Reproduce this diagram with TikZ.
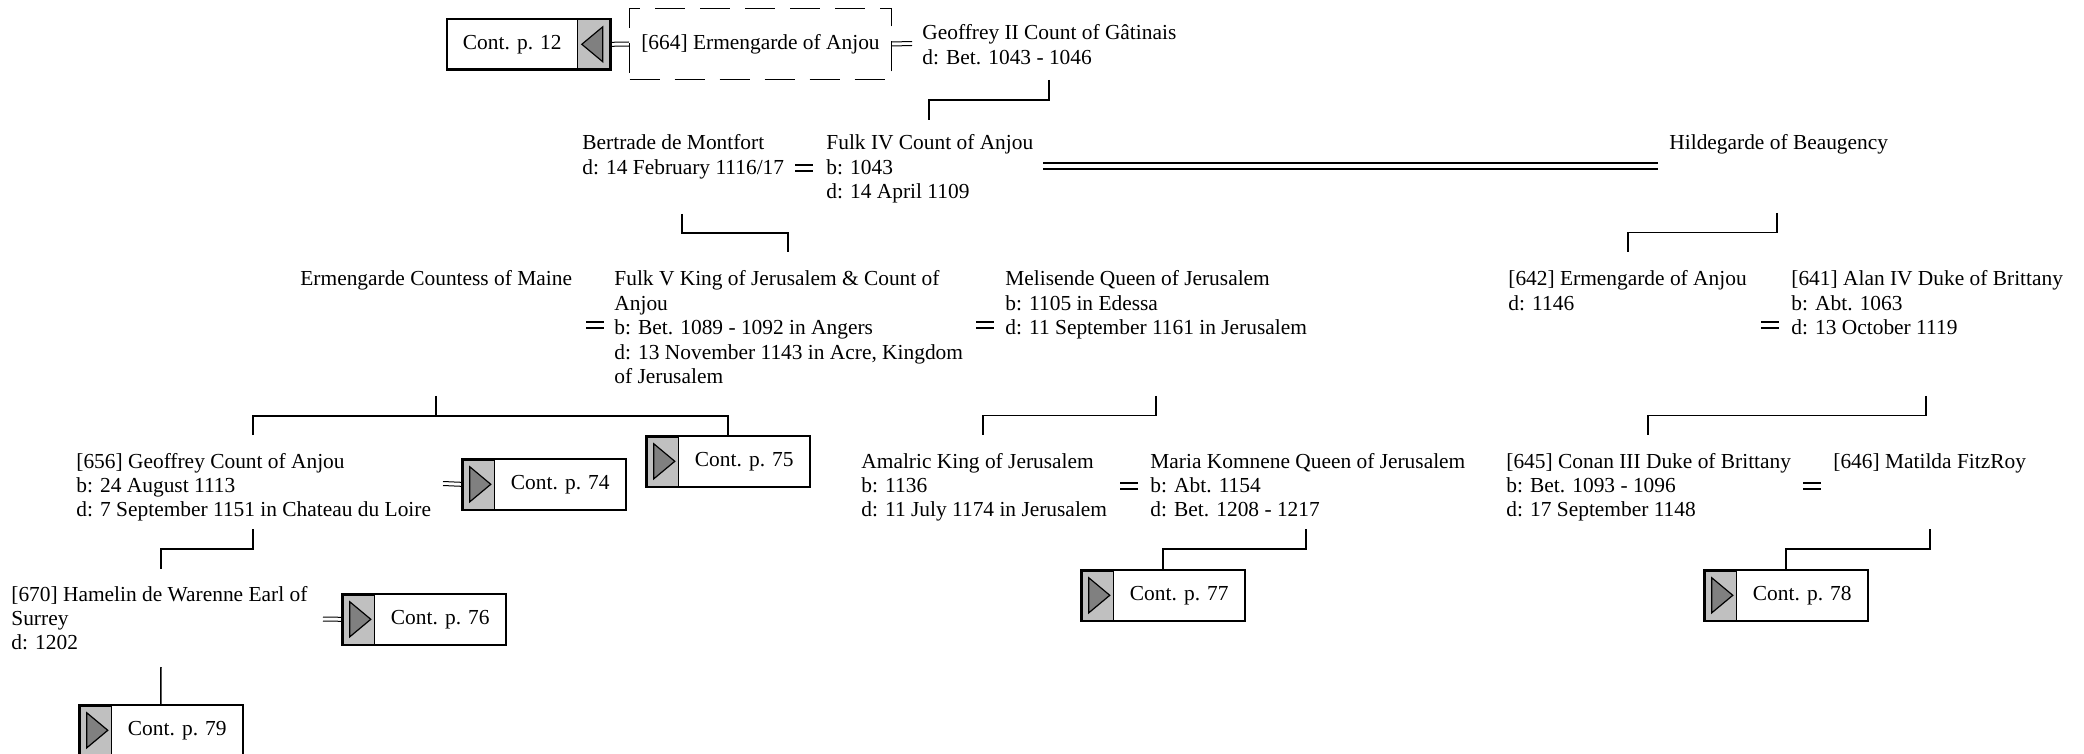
\documentclass[tikz,border=0pt]{standalone}
\usepackage{fontspec}
\setmainfont{Liberation Serif}
\usetikzlibrary{calc}
\definecolor{gA}{HTML}{C0C0C0}
\definecolor{gB}{HTML}{808080}
\newcommand\plines[1]{\begin{tabular}[t]{@{}l@{}}#1\end{tabular}}
\begin{document}
\begin{tikzpicture}[x=0.5pt,y=-0.5pt,
  every node/.style={font=\fontsize{10.7}{12.2}\selectfont},
  person/.style={anchor=base west, inner sep=0pt},
  conn/.style={line width=0.75pt},
  marr/.style={inner sep=0pt, minimum width=8.5pt, minimum height=3pt},
  mline/.style={line width=0.8pt},
  thinl/.style={line width=0.5pt},
  bigdbl/.style={double, double distance=2.1pt, line width=0.9pt},
  contbox/.style={draw, line width=0.8pt, minimum width=82pt, minimum height=25.5pt, inner sep=0pt, anchor=north west},
  contR/.style={contbox, path picture={
    \fill[gA] (path picture bounding box.north west) rectangle ([xshift=16.5pt]path picture bounding box.south west);
    \draw[line width=0.5pt] ([xshift=16.5pt]path picture bounding box.north west) -- ([xshift=16.5pt]path picture bounding box.south west);
    \draw[line width=2pt] ([xshift=16.5pt]path picture bounding box.north west) -- (path picture bounding box.north west) -- (path picture bounding box.south west);
    \draw[fill=gB, line width=0.6pt] ([xshift=4pt,yshift=-4pt]path picture bounding box.north west) -- ([xshift=14.5pt]path picture bounding box.west) -- ([xshift=4pt,yshift=4pt]path picture bounding box.south west) -- cycle;
  }},
  contL/.style={contbox, path picture={
    \fill[gA] (path picture bounding box.north east) rectangle ([xshift=-16.5pt]path picture bounding box.south east);
    \draw[line width=0.5pt] ([xshift=-16.5pt]path picture bounding box.north east) -- ([xshift=-16.5pt]path picture bounding box.south east);
    \draw[line width=2pt] (path picture bounding box.north east) -- (path picture bounding box.south east) -- (path picture bounding box.south west);
    \draw[fill=gB, line width=0.6pt] ([xshift=-4pt,yshift=-4pt]path picture bounding box.north east) -- ([xshift=-14.5pt]path picture bounding box.east) -- ([xshift=-4pt,yshift=4pt]path picture bounding box.south east) -- cycle;
  }},
  dashbox/.style={draw, line width=0.5pt, dash pattern=on 15pt off 7.5pt, minimum width=131pt, minimum height=35.5pt, inner sep=0pt, anchor=north west}
]
\clip (0,0) rectangle (2084,754);
\fill[white] (0,0) rectangle (2084,754);

% ---- row 1
\node[contL] (c12) at (446,18) {Cont. p. 12\hspace*{16.5pt}};
\node[dashbox] (e664) at (629,8) {[664] Ermengarde of Anjou};
\node[person] (g2) at (922,40) {\plines{Geoffrey II Count of Gâtinais\\d: Bet. 1043 - 1046}};
\coordinate (g2r) at (912,43.5);
\draw[thinl] ([yshift=1pt]c12.east) -- ([yshift=1pt]e664.west);
\draw[thinl] ([yshift=-1pt]c12.east) -- ([yshift=-1pt]e664.west);
\draw[thinl] ([yshift=1pt]e664.east) -- ([yshift=1pt]g2r);
\draw[thinl] ([yshift=-1pt]e664.east) -- ([yshift=-1pt]g2r);

% ---- row 2
\node[person] (bert) at (582,150) {\plines{Bertrade de Montfort\\d: 14 February 1116/17}};
\node[person] (f4) at (826,150) {\plines{Fulk IV Count of Anjou\\b: 1043\\d: 14 April 1109}};
\node[person] (hild) at (1669,150) {Hildegarde of Beaugency};
\node[marr] (m1) at (804,168) {};
\coordinate (f4r) at (1043,166);
\coordinate (hildl) at (1658,166);
\draw[bigdbl] (f4r) -- (hildl);

% ---- row 3
\node[person] (ecm) at (300,286) {Ermengarde Countess of Maine};
\node[person] (f5) at (614,286) {\plines{Fulk V King of Jerusalem \& Count of\\Anjou\\b: Bet. 1089 - 1092 in Angers\\d: 13 November 1143 in Acre, Kingdom\\of Jerusalem}};
\node[person] (mel) at (1005,286) {\plines{Melisende Queen of Jerusalem\\b: 1105 in Edessa\\d: 11 September 1161 in Jerusalem}};
\node[person] (e642) at (1508,286) {\plines{[642] Ermengarde of Anjou\\d: 1146}};
\node[person] (a641) at (1791,286) {\plines{[641] Alan IV Duke of Brittany\\b: Abt. 1063\\d: 13 October 1119}};
\node[marr] (m2) at (595,325) {};
\node[marr] (m3) at (985,325) {};
\node[marr] (m4) at (1770,325) {};

% ---- row 4
\node[person] (g656) at (76,468) {\plines{[656] Geoffrey Count of Anjou\\b: 24 August 1113\\d: 7 September 1151 in Chateau du Loire}};
\node[contR] (c74) at (461,458) {\hspace*{16.5pt}Cont. p. 74};
\node[contR] (c75) at (645,435) {\hspace*{16.5pt}Cont. p. 75};
\node[person] (ama) at (861,468) {\plines{Amalric King of Jerusalem\\b: 1136\\d: 11 July 1174 in Jerusalem}};
\node[person] (mar) at (1150,468) {\plines{Maria Komnene Queen of Jerusalem\\b: Abt. 1154\\d: Bet. 1208 - 1217}};
\node[person] (c645) at (1506,468) {\plines{[645] Conan III Duke of Brittany\\b: Bet. 1093 - 1096\\d: 17 September 1148}};
\node[person] (m646) at (1833,468) {[646] Matilda FitzRoy};
\node[marr] (m5) at (1129,486) {};
\node[marr] (m6) at (1812,486) {};
\coordinate (g656r) at (443,483.5);
\draw[thinl] ([yshift=1pt]g656r) -- ([yshift=1pt]c74.west);
\draw[thinl] ([yshift=-1pt]g656r) -- ([yshift=-1pt]c74.west);

% ---- row 5
\node[person] (h670) at (11,601) {\plines{[670] Hamelin de Warenne Earl of\\Surrey\\d: 1202}};
\node[contR] (c76) at (341,593) {\hspace*{16.5pt}Cont. p. 76};
\node[contR] (c77) at (1080,569) {\hspace*{16.5pt}Cont. p. 77};
\node[contR] (c78) at (1703,569) {\hspace*{16.5pt}Cont. p. 78};
\node[contR] (c79) at (78,704) {\hspace*{16.5pt}Cont. p. 79};
\coordinate (h670r) at (323,619);
\draw[thinl] ([yshift=1pt]h670r) -- ([yshift=1pt]c76.west);
\draw[thinl] ([yshift=-1pt]h670r) -- ([yshift=-1pt]c76.west);

% ---- marriage signs
\foreach \m in {m1,m2,m3,m4,m5,m6}{
  \draw[mline] ([yshift=1.45pt]\m.west) -- ([yshift=1.45pt]\m.east);
  \draw[mline] ([yshift=-1.45pt]\m.west) -- ([yshift=-1.45pt]\m.east);
}

% ---- descent connectors
\coordinate (d1) at (1049,80);  \coordinate (k1) at (929,120);
\coordinate (d2) at (682,214);  \coordinate (k2) at (788,252);
\coordinate (d3) at (1777,213); \coordinate (k3) at (1628,252);
\coordinate (d4) at (436,396);  \coordinate (k4) at (253,435);
\coordinate (d5) at (1156,396); \coordinate (k5) at (983,435);
\coordinate (d6) at (1926,396); \coordinate (k6) at (1648,435);
\coordinate (d7) at (253,529);  \coordinate (k7) at (161,569);
\coordinate (d8) at (1306,529);
\coordinate (d9) at (1930,529);
\coordinate (d10) at (161,667);
\draw[conn] (d1) |- ($(d1)!.5!(k1)$) -| (k1);
\draw[conn] (d2) |- ($(d2)!.5!(k2)$) -| (k2);
\draw[conn] (d3) |- ($(d3)!.5!(k3)$) -| (k3);
\draw[conn] (d4) -- ++(0,20) coordinate (h4);
\draw[conn] (k4) |- (h4) -| (c75.north);
\draw[conn] (d5) |- ($(d5)!.5!(k5)$) -| (k5);
\draw[conn] (d6) |- ($(d6)!.5!(k6)$) -| (k6);
\draw[conn] (d7) |- ($(d7)!.5!(k7)$) -| (k7);
\draw[conn] (d8) |- ($(d8)!.5!(c77.north)$) -| (c77.north);
\draw[conn] (d9) |- ($(d9)!.5!(c78.north)$) -| (c78.north);
\draw[conn] (d10) -- (c79.north);
\end{tikzpicture}
\end{document}
